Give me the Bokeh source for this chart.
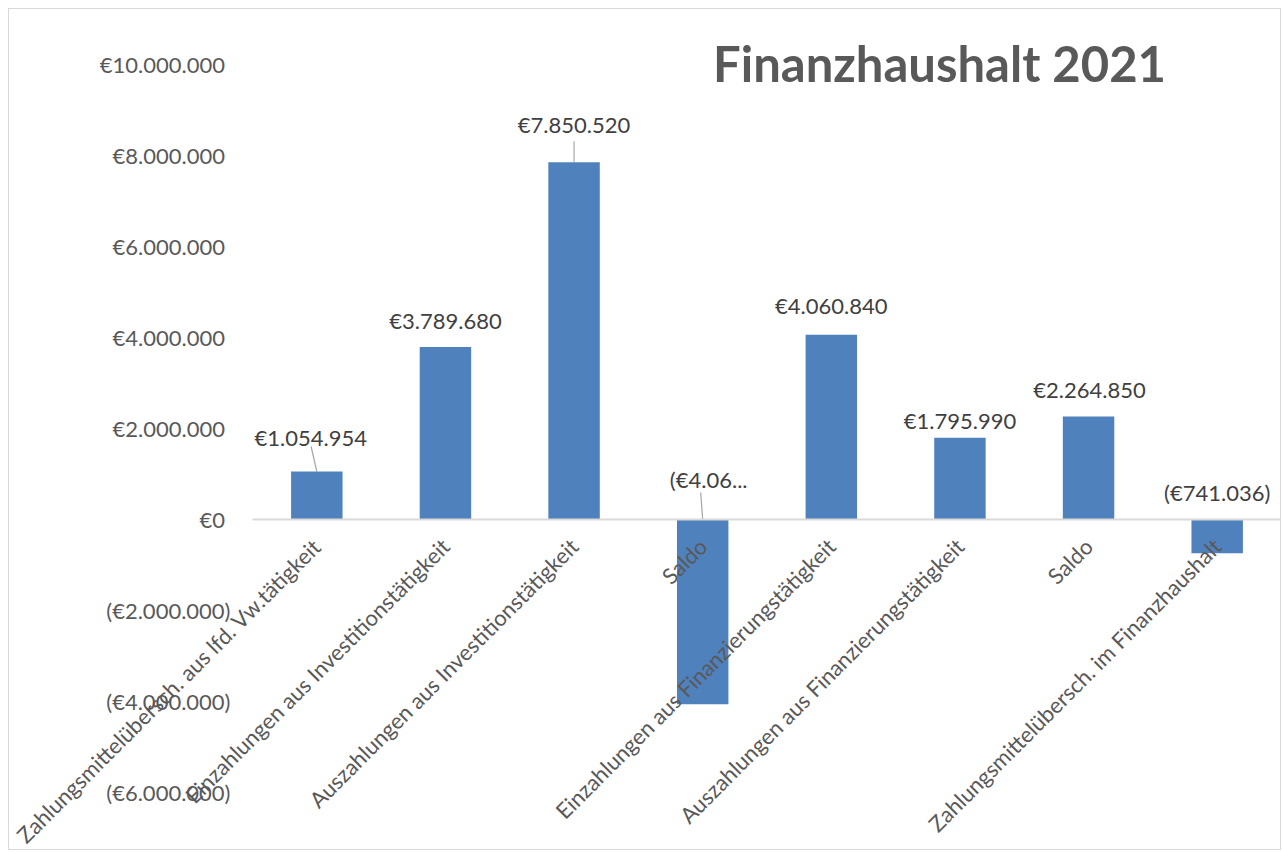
import math
from bokeh.plotting import figure
from bokeh.models import (ColumnDataSource, LabelSet, Label, Range1d,
                          FixedTicker, CustomJSTickFormatter, LinearAxis)
from bokeh.core.properties import value
from bokeh.embed import file_html
from bokeh.resources import INLINE

# ---------------- data ----------------
categories = [
    "Zahlungsmittelübersch. aus lfd. Vw.tätigkeit",
    "Einzahlungen aus Investitionstätigkeit",
    "Auszahlungen aus Investitionstätigkeit",
    "Saldo",
    "Einzahlungen aus Finanzierungstätigkeit",
    "Auszahlungen aus Finanzierungstätigkeit",
    "Saldo",
    "Zahlungsmittelübersch. im Finanzhaushalt",
]
values = [1054954, 3789680, 7850520, -4060840, 4060840, 1795990, 2264850, -741036]
data_labels = ["€1.054.954", "€3.789.680", "€7.850.520", "(€4.06...",
               "€4.060.840", "€1.795.990", "€2.264.850", "(€741.036)"]
y_ticks = [-6000000, -4000000, -2000000, 0, 2000000, 4000000, 6000000, 8000000, 10000000]
title_text = "Finanzhaushalt 2021"

# ---------------- styling / layout ----------------
BLUE = "#4F81BD"
GREY_TXT = "#595959"
LABEL_TXT = "#404040"
FONT = "Lato"
FS = "22px"
W, H = 1273, 842          # canvas; page offset = 8px margin + 1px border
OX, OY = 9, 9
PLOT_L, PLOT_R = 252, 1281  # plot area (page px)
n = len(categories)
x_per_px = n / (PLOT_R - PLOT_L)
XMIN = -0.5 - (PLOT_L - OX) * x_per_px
XMAX = n - 0.5 + (OX + W - PLOT_R) * x_per_px
y_per_px = 16000000 / 728            # -6M..10M spans 728 px
YMAX = 10000000 + (64 - OY) * y_per_px
YMIN = -6000000 - (OY + H - 792) * y_per_px

# per-label pixel offsets (label placement as in the original)
lab_dx = [-6, 0, 0, 6, 0, 0, 1, 0]
lab_dy = [34, 27, 38, 40, 29, 17, 27, 27]

idx = list(range(n))
tops = [max(v, 0) for v in values]

p = figure(width=W, height=H, output_backend="svg", toolbar_location=None,
           x_range=Range1d(XMIN, XMAX), y_range=Range1d(YMIN, YMAX),
           x_axis_location=None, y_axis_location=None,
           min_border_left=0, min_border_right=0,
           min_border_top=0, min_border_bottom=0,
           background_fill_color="white", border_fill_color="white",
           styles={"border": "1px solid #D9D9D9", "margin": "8px 0 0 8px"})
p.outline_line_color = None
p.xgrid.visible = False
p.ygrid.visible = False


def plain_axis(ax):
    ax.major_tick_line_color = None
    ax.minor_tick_line_color = None
    ax.major_tick_out = 0
    ax.major_tick_in = 0
    ax.minor_tick_out = 0
    ax.minor_tick_in = 0
    ax.major_label_text_font = FONT
    ax.major_label_text_font_size = FS
    ax.major_label_text_color = GREY_TXT


# value axis at the left edge of the plot area
ya = LinearAxis(fixed_location=-0.5, ticker=FixedTicker(ticks=y_ticks))
ya.formatter = CustomJSTickFormatter(code="""
const s = Math.abs(tick).toFixed(0).replace(/\\B(?=(\\d{3})+(?!\\d))/g, ".");
return tick < 0 ? "(\u20ac" + s + ")" : "\u20ac" + s + "\u2005";
""")
plain_axis(ya)
ya.axis_line_color = None
ya.major_label_standoff = 22
p.add_layout(ya, "left")

# category axis sitting on the zero line (its line is the zero line)
xa = LinearAxis(fixed_location=0, ticker=FixedTicker(ticks=idx),
                bounds=(-0.5, n - 0.5),
                major_label_overrides={i: c for i, c in zip(idx, categories)},
                major_label_orientation=math.pi / 4)
plain_axis(xa)
xa.axis_line_color = "#D9D9D9"
xa.axis_line_width = 2
xa.major_label_standoff = 23
p.add_layout(xa, "below")

# bars
src = ColumnDataSource(dict(x=idx, v=values, top=tops, lab=data_labels,
                            dx=lab_dx, dy=lab_dy))
p.vbar(x="x", top="v", bottom=0, width=0.4, source=src,
       fill_color=BLUE, line_color=None)

# leader lines (bars 1, 3, 4)
lead_i = [0, 2, 3]
lead_len = [25, 21, 27]
lead_dx = [-5.7, 0, -2]
p.segment(x0=[idx[i] for i in lead_i],
          y0=[tops[i] for i in lead_i],
          x1=[idx[i] + d * x_per_px for i, d in zip(lead_i, lead_dx)],
          y1=[tops[i] + L * y_per_px for i, L in zip(lead_i, lead_len)],
          line_color="#A6A6A6", line_width=1.2)

# data labels
p.add_layout(LabelSet(x="x", y="top", text="lab", source=src,
                      x_offset="dx", y_offset="dy",
                      text_align="center", text_baseline="middle",
                      text_font=value(FONT), text_font_size=FS,
                      text_color=LABEL_TXT))

# title
p.add_layout(Label(x=XMIN + (939 - OX) * x_per_px,
                   y=YMAX - (62 - OY) * y_per_px,
                   text=title_text, text_align="center", text_baseline="middle",
                   text_font=FONT, text_font_size="49px", text_font_style="bold",
                   text_color=GREY_TXT))

open("out.html", "w").write(file_html(p, INLINE))
